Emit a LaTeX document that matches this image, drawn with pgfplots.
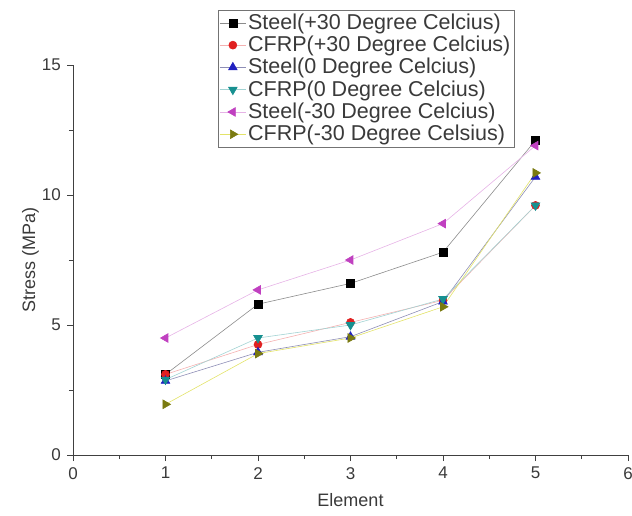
\documentclass[border=0pt]{standalone}
\usepackage{fontspec}
\setmainfont{Liberation Sans}
\usepackage{pgfplots}
\pgfplotsset{compat=1.18}

\definecolor{txt}{HTML}{3A3A3A}
\definecolor{cRed}{HTML}{E02020}
\definecolor{cBlue}{HTML}{2020C0}
\definecolor{cCyan}{HTML}{179090}
\definecolor{cMag}{HTML}{C040C0}
\definecolor{cOli}{HTML}{7A7A10}

\begin{document}
\fontsize{18}{21}\selectfont
\begin{tikzpicture}
\begin{axis}[name=ax, at={(0,0)}, anchor=origin,
  width=555pt, height=390pt, scale only axis,
  xmin=0, xmax=6, ymin=0, ymax=15,
  axis lines=left, axis line style={-, thick, black!75},
  xtick={0,...,6}, ytick={0,5,10,15}, minor tick num=1,
  tick align=outside, major tick length=6pt, minor tick length=4pt,
  tick style={black!75, thick},
  /pgf/number format/assume math mode=true,
  ticklabel style={font=\fontsize{17}{20}\selectfont, text=txt},
  xlabel={Element}, ylabel={Stress (MPa)},
  label style={font=\fontsize{18}{21}\selectfont, text=txt},
  xlabel style={at={(axis description cs:0.5,0)}, anchor=north, yshift=-32pt},
  ylabel style={at={(axis description cs:0,0.5)}, anchor=south, yshift=28pt},
  legend style={at={(axis description cs:0.261,1.141)}, anchor=north west,
    draw=black!55, fill=white, font=\fontsize{21.5}{23}\selectfont, text=txt,
    row sep=0pt, inner sep=1.5pt},
  legend cell align=left,
  legend image code/.code={
    \draw[mark repeat=2, mark phase=2] plot coordinates {(0pt,0pt) (13pt,0pt) (26pt,0pt)};},
  every axis plot/.append style={line width=0.6pt},
]
\addplot[color=black!45, mark=square*, mark size=4pt, mark options={fill=black, draw=black}]
  coordinates {(1,3.1) (2,5.8) (3,6.6) (4,7.8) (5,12.1)};
\addlegendentry{Steel(+30 Degree Celcius)}
\addplot[color=cRed!35, mark=*, mark size=4pt, mark options={fill=cRed, draw=cRed}]
  coordinates {(1,3.1) (2,4.25) (3,5.1) (4,5.95) (5,9.6)};
\addlegendentry{CFRP(+30 Degree Celcius)}
\addplot[color=cBlue!35!gray!70, mark=triangle*, mark size=5pt, mark options={fill=cBlue, draw=cBlue}]
  coordinates {(1,2.85) (2,3.95) (3,4.55) (4,5.9) (5,10.7)};
\addlegendentry{Steel(0 Degree Celcius)}
\addplot[color=cCyan!40, mark=triangle*, mark size=5pt, mark options={fill=cCyan, draw=cCyan, rotate=180}]
  coordinates {(1,2.9) (2,4.5) (3,5.0) (4,6.0) (5,9.6)};
\addlegendentry{CFRP(0 Degree Celcius)}
\addplot[color=cMag!40, mark=triangle*, mark size=5pt, mark options={fill=cMag, draw=cMag, rotate=90}]
  coordinates {(1,4.5) (2,6.35) (3,7.5) (4,8.9) (5,11.9)};
\addlegendentry{Steel(-30 Degree Celcius)}
\addplot[color=cOli!35!yellow!60, mark=triangle*, mark size=5pt, mark options={fill=cOli, draw=cOli, rotate=-90}]
  coordinates {(1,1.95) (2,3.9) (3,4.5) (4,5.7) (5,10.85)};
\addlegendentry{CFRP(-30 Degree Celsius)}
\end{axis}
\pgfresetboundingbox
\path[use as bounding box] (-73pt,-60pt) rectangle (559pt,455pt);
\end{tikzpicture}
\end{document}
